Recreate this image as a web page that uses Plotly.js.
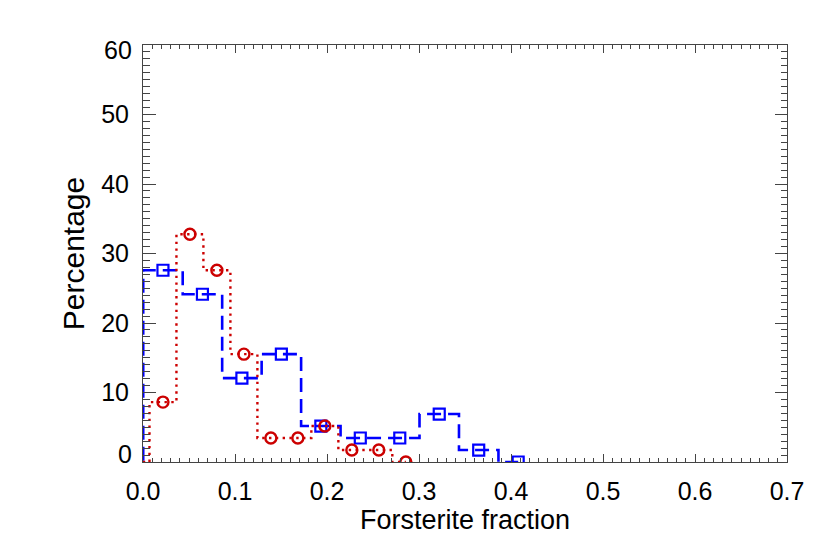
<!DOCTYPE html>
<html>
<head>
<meta charset="utf-8">
<script src="https://cdn.plot.ly/plotly-3.0.1.min.js"></script>
<style>
  body { margin: 0; background: white; }
  #hist { width: 830px; height: 554px; }
</style>
</head>
<body>
<div id="hist"></div>
<script>
// bin centres and percentages
var redX = [0.0217, 0.0510, 0.0803, 0.1097, 0.1390, 0.1683, 0.1977, 0.2270, 0.2563, 0.2857]
var redY = [8.62, 32.76, 27.59, 15.52, 3.45, 3.45, 5.17, 1.72, 1.72, 0]

var blueX = [0.0217, 0.0646, 0.1075, 0.1504, 0.1933, 0.2362, 0.2791, 0.3220, 0.3649, 0.4078]
var blueY = [27.59, 24.14, 12.07, 15.52, 5.17, 3.45, 3.45, 6.90, 1.72, 0]

var yTickVals = [0, 10, 20, 30, 40, 50, 60]
var yTickText = ['', '10', '20', '30', '40', '50', '']
var yEndLabels = [{ v: 0, text: '0', shift: 8 }, { v: 60, text: '60', shift: -5 }]

var font = 'Liberation Sans, Arial, Helvetica, sans-serif'
var tickSize = 25

// one empty bin in front so the first step rises from zero (IDL psym=10 style)
function padded(x, y) {
    var dx = x[1] - x[0]
    return {
        x: [x[0] - dx].concat(x),
        y: [0].concat(y)
    }
}

function make_histogram() {
    var bluePad = padded(blueX, blueY)
    var redPad = padded(redX, redY)

    var blueLine = {
        x: bluePad.x, y: bluePad.y,
        mode: 'lines',
        line: { shape: 'hvh', color: '#0000ff', width: 2.6, dash: '14px,7px' },
        hoverinfo: 'skip'
    }
    var blueMarks = {
        x: blueX, y: blueY,
        mode: 'markers',
        marker: { symbol: 'square-open', size: 11, color: '#0000ff', line: { width: 2.2, color: '#0000ff' } }
    }
    var redLine = {
        x: redPad.x, y: redPad.y,
        mode: 'lines',
        line: { shape: 'hvh', color: '#cc0000', width: 2.4, dash: '2.4px,4.4px' },
        hoverinfo: 'skip'
    }
    var redMarks = {
        x: redX, y: redY,
        mode: 'markers',
        marker: { symbol: 'circle-open', size: 11, color: '#cc0000', line: { width: 2.4, color: '#cc0000' } }
    }

    var annotations = yEndLabels.map(function (d) {
        return {
            xref: 'paper', yref: 'y', x: 0, y: d.v,
            xanchor: 'right', yanchor: 'middle',
            xshift: -9, yshift: d.shift,
            text: d.text, showarrow: false,
            font: { family: font, size: tickSize, color: '#000' }
        }
    })

    var layout = {
        width: 830,
        height: 554,
        margin: { l: 143, r: 43, t: 45, b: 92 },
        paper_bgcolor: 'white',
        plot_bgcolor: 'white',
        showlegend: false,
        font: { family: font, size: tickSize, color: '#000' },
        xaxis: {
            range: [0, 0.7],
            dtick: 0.1,
            tick0: 0,
            tickformat: '.1f',
            tickfont: { family: font, size: tickSize, color: '#000' },
            ticks: 'inside',
            ticklen: 8,
            tickcolor: '#444',
            tickwidth: 1,
            minor: { dtick: 0.01, ticks: 'inside', ticklen: 4, tickcolor: '#444', tickwidth: 1 },
            showline: true, linecolor: '#444', linewidth: 1,
            mirror: 'ticks',
            showgrid: false, zeroline: false,
            ticklabelstandoff: 7,
            title: { text: 'Forsterite fraction', font: { family: font, size: 27 }, standoff: 6 }
        },
        yaxis: {
            range: [0, 60],
            tickmode: 'array',
            tickvals: yTickVals,
            ticktext: yTickText,
            tickfont: { family: font, size: tickSize, color: '#000' },
            ticks: 'inside',
            ticklen: 12.5,
            tickcolor: '#444',
            tickwidth: 1,
            minor: { dtick: 1, tick0: 0, ticks: 'inside', ticklen: 6.5, tickcolor: '#444', tickwidth: 1 },
            showline: true, linecolor: '#444', linewidth: 1,
            mirror: 'ticks',
            showgrid: false, zeroline: false,
            ticklabelstandoff: 8,
            title: { text: 'Percentage', font: { family: font, size: 30 }, standoff: 7 }
        },
        annotations: annotations
    }

    Plotly.newPlot('hist', [blueLine, blueMarks, redLine, redMarks], layout, { staticPlot: true })
}

make_histogram()
</script>
</body>
</html>
